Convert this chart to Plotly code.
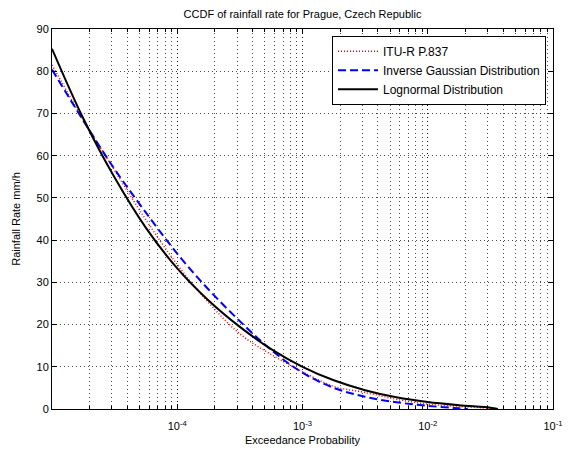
import plotly.graph_objects as go

# Exceedance probability (x) and rainfall rate mm/h (y) for each curve
p_itu = [1e-5, 1.778e-5, 3.162e-5, 5.623e-5, 1e-4, 1.778e-4, 3.162e-4, 5.623e-4,
         1e-3, 1.778e-3, 3.162e-3, 5.623e-3, 1e-2, 1.778e-2, 3.162e-2, 3.63e-2]
r_itu = [81.5, 68.5, 56.5, 44.8, 34.2, 25.2, 17.8, 12.9,
         8.8, 5.36, 3.9, 2.3, 1.15, 0.6, 0.15, 0.0]

p_ig = [1e-5, 1.778e-5, 3.162e-5, 5.623e-5, 1e-4, 1.778e-4, 3.162e-4, 5.623e-4,
        1e-3, 1.778e-3, 3.162e-3, 5.623e-3, 1e-2, 1.778e-2, 2.09e-2]
r_ig = [80.4, 68.3, 56.8, 46.5, 36.8, 28.3, 20.8, 14.0,
        8.6, 5.0, 2.9, 1.6, 0.75, 0.15, 0.0]

p_ln = [1e-5, 1.778e-5, 3.162e-5, 5.623e-5, 1e-4, 1.778e-4, 3.162e-4, 5.623e-4,
        1e-3, 1.778e-3, 3.162e-3, 5.623e-3, 1e-2, 1.778e-2, 3.162e-2, 3.63e-2]
r_ln = [85.3, 68.8, 54.8, 42.9, 33.3, 25.7, 19.45, 14.2,
        10.0, 6.8, 4.45, 2.76, 1.64, 0.89, 0.3, 0.0]

x_tickvals = [1e-4, 1e-3, 1e-2, 1e-1]
x_ticktext = ["10<sup>-4</sup>", "10<sup>-3</sup>", "10<sup>-2</sup>", "10<sup>-1</sup>"]

FONT = "Liberation Sans, Arial, sans-serif"
GRID = "rgba(0,0,0,0.7)"
GDASH = "1px,3px"

fig = go.Figure()
fig.add_trace(go.Scatter(x=p_itu, y=r_itu, mode="lines", name="ITU-R P.837",
                         line=dict(color="#ff0000", width=1.5, dash="1px,2px",
                                   shape="spline", smoothing=1.0)))
fig.add_trace(go.Scatter(x=p_ig, y=r_ig, mode="lines", name="Inverse Gaussian Distribution",
                         line=dict(color="#0000ff", width=2, dash="8px,4px",
                                   shape="spline", smoothing=1.0)))
fig.add_trace(go.Scatter(x=p_ln, y=r_ln, mode="lines", name="Lognormal Distribution",
                         line=dict(color="#000000", width=2,
                                   shape="spline", smoothing=1.0)))

fig.update_layout(
    width=568, height=450,
    margin=dict(l=52, r=15, t=29, b=41),
    paper_bgcolor="white", plot_bgcolor="white",
    font=dict(family=FONT, size=11, color="black"),
    title=dict(text="CCDF of rainfall rate for Prague, Czech Republic",
               x=0.5, xref="paper", xanchor="center", y=1, yref="container",
               yanchor="top", pad=dict(t=10), font=dict(size=11)),
    showlegend=True,
    legend=dict(x=0.986, y=0.982, xanchor="right", yanchor="top",
                bgcolor="white", bordercolor="black", borderwidth=1,
                font=dict(size=12), tracegroupgap=0, itemwidth=40),
    xaxis=dict(type="log", range=[-5, -1], automargin=False,
               tickmode="array", tickvals=x_tickvals, ticktext=x_ticktext,
               ticks="inside", ticklen=5, tickcolor="black",
               ticklabelstandoff=7,
               showline=True, linecolor="black", linewidth=1, mirror="ticks",
               showgrid=True, gridcolor=GRID, griddash=GDASH, gridwidth=1,
               minor=dict(dtick="D1", showgrid=True, gridcolor=GRID, griddash=GDASH,
                          ticks="inside", ticklen=3, tickcolor="black"),
               zeroline=False,
               title=dict(text="Exceedance Probability", standoff=5, font=dict(size=11))),
    yaxis=dict(range=[0, 90], dtick=10, tick0=0, automargin=False,
               ticks="inside", ticklen=5, tickcolor="black",
               showline=True, linecolor="black", linewidth=1, mirror="ticks",
               showgrid=True, gridcolor=GRID, griddash=GDASH, gridwidth=1,
               zeroline=False,
               title=dict(text="Rainfall Rate mm/h", standoff=13, font=dict(size=11))),
)

fig.write_html("out.html")
